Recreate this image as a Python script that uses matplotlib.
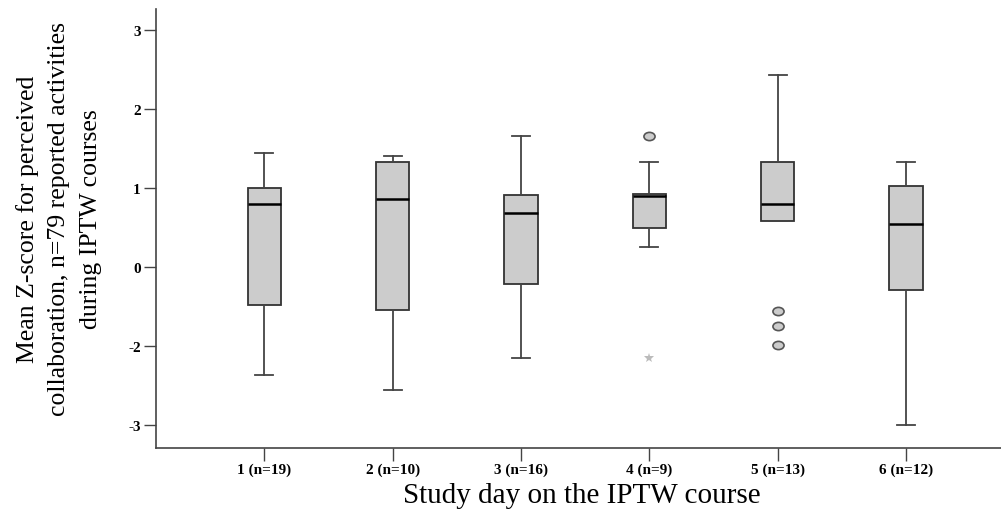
import matplotlib.pyplot as plt
from matplotlib.path import Path
from matplotlib.transforms import Affine2D

# box statistics (axis units, 0 at the "0" tick)
days = ['1 (n=19)', '2 (n=10)', '3 (n=16)', '4 (n=9)', '5 (n=13)', '6 (n=12)']
whislo = [-1.36, -1.55, -1.14, 0.26, 0.585, -1.99]
q1 = [-0.48, -0.54, -0.21, 0.50, 0.585, -0.285]
med = [0.80, 0.87, 0.69, 0.91, 0.80, 0.55]
q3 = [1.00, 1.34, 0.92, 0.93, 1.34, 1.035]
whishi = [1.45, 1.415, 1.66, 1.34, 2.44, 1.34]
outliers = [[], [], [], [1.66], [-0.55, -0.74, -0.98], []]
extremes = [[], [], [], [-1.14], [], []]

ytick_pos = [3, 2, 1, 0, -1, -2]
ytick_lab = ['3', '2', '1', '0', '-2', '-3']

fig = plt.figure(figsize=(10.01, 5.10), dpi=100)
ax = fig.add_axes([156/1001, 61/510, 845/1001, 439/510])

stats = []
for i in range(len(days)):
    stats.append(dict(whislo=whislo[i], q1=q1[i], med=med[i], q3=q3[i],
                      whishi=whishi[i], fliers=outliers[i]))

ellipse = Path.unit_circle().transformed(Affine2D().scale(1.35, 1.0))
pos = list(range(1, len(days) + 1))
ax.bxp(stats, positions=pos, widths=0.26, capwidths=0.14, patch_artist=True,
       boxprops=dict(facecolor='#cccccc', edgecolor='#333333', linewidth=1.3),
       medianprops=dict(color='black', linewidth=1.8),
       whiskerprops=dict(color='#444444', linewidth=1.3),
       capprops=dict(color='#444444', linewidth=1.3),
       flierprops=dict(marker=ellipse, markersize=8, markerfacecolor='#cccccc',
                       markeredgecolor='#555555', markeredgewidth=1.2))

for p, ex in zip(pos, extremes):
    if ex:
        ax.plot([p] * len(ex), ex, linestyle='none', marker='*', markersize=7,
                color='#bbbbbb', markeredgewidth=0)

ax.set_xlim(0.156, 6.74)
ax.set_ylim(-2.285, 3.27)
ax.set_xticks(pos)
ax.set_xticklabels(days, family='Liberation Serif', fontweight='bold', fontsize=11)
ax.set_yticks(ytick_pos)
ax.set_yticklabels(ytick_lab, family='Liberation Serif', fontweight='bold', fontsize=11)
ax.tick_params(length=9, width=1, color='#444444', pad=2)
ax.tick_params(axis='x', pad=1.5)
for s in ['top', 'right']:
    ax.spines[s].set_visible(False)
for s in ['left', 'bottom']:
    ax.spines[s].set_color('#444444')
    ax.spines[s].set_linewidth(1.2)

fig.text(582/1001, 1 - 503/510, 'Study day on the IPTW course',
         family='Liberation Serif', fontsize=21, ha='center', va='baseline')
fig.text(59/1001, 1 - 219/510,
         'Mean Z-score for perceived\ncollaboration, n=79 reported activities\nduring IPTW courses',
         family='Liberation Serif', fontsize=18.5, rotation=90, ha='center',
         va='center', multialignment='center', linespacing=1.55)

fig.savefig('out.png', dpi=100)
